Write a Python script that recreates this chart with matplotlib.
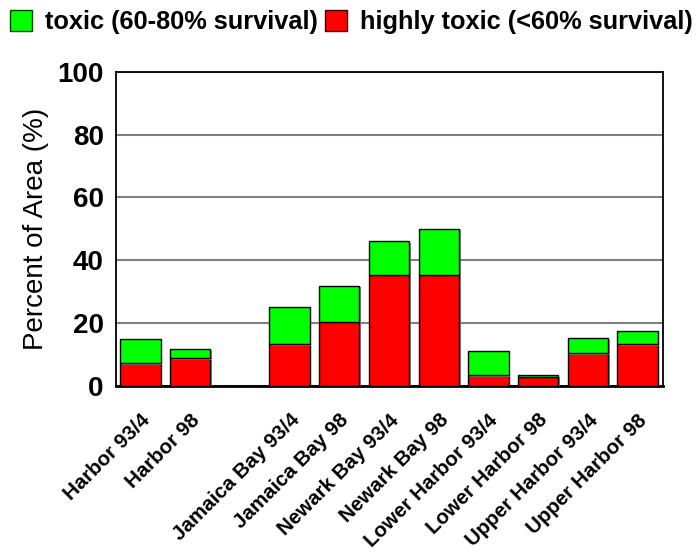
import numpy as np
import matplotlib.pyplot as plt
import matplotlib.patheffects as pe
from matplotlib.patches import Patch

plt.rcParams['font.family'] = ['Liberation Sans', 'DejaVu Sans']

# one empty slot between the harbor-wide bars and the sub-basins
labels = ['Harbor 93/4', 'Harbor 98', '',
          'Jamaica Bay 93/4', 'Jamaica Bay 98',
          'Newark Bay 93/4', 'Newark Bay 98',
          'Lower Harbor 93/4', 'Lower Harbor 98',
          'Upper Harbor 93/4', 'Upper Harbor 98']
highly_toxic = [7.2, 8.7, 0, 13.2, 20.4, 35.4, 35.4, 3.2, 2.8, 10.4, 13.1]
toxic_total = [14.8, 11.7, 0, 24.9, 31.8, 46.0, 50.0, 10.9, 3.2, 15.0, 17.3]
toxic = [t - h for t, h in zip(toxic_total, highly_toxic)]

fig = plt.figure(figsize=(6.97, 5.52), dpi=100)
ax = fig.add_axes([115.5 / 697, 1 - 385.5 / 552, 547 / 697, 313.5 / 552])

x = np.arange(len(labels))
shadow = [pe.SimplePatchShadow(offset=(1.2, -1.2), shadow_rgbFace='0.5', alpha=0.9),
          pe.Normal()]
keep = [i for i in range(len(labels)) if labels[i]]
b1 = ax.bar(x[keep], np.array(highly_toxic)[keep], width=0.81, color='#ff0000',
            edgecolor='black', linewidth=1.0, zorder=3, path_effects=shadow)
b2 = ax.bar(x[keep], np.array(toxic)[keep], width=0.81,
            bottom=np.array(highly_toxic)[keep], color='#00ff00',
            edgecolor='black', linewidth=1.0, zorder=3, path_effects=shadow)

ax.set_xlim(-0.5, len(labels) - 0.5)
ax.set_ylim(0, 100)
ax.set_yticks([0, 20, 40, 60, 80, 100])
ax.set_yticklabels(['0', '20', '40', '60', '80', '100'], fontsize=20, fontweight='bold')
ax.yaxis.grid(True, color='#808080', linewidth=1.5, zorder=0)
ax.set_axisbelow(True)
ax.tick_params(axis='y', length=0, pad=8.5)
ax.tick_params(axis='x', length=0, pad=18)
ax.set_xticks(x[keep])
ax.set_xticklabels([labels[i] for i in keep], rotation=45, ha='right',
                   rotation_mode='anchor', fontsize=14.8, fontweight='bold')
ax.set_ylabel('Percent of Area (%)', fontsize=20, labelpad=6)
for s in ax.spines.values():
    s.set_linewidth(1.3)
    s.set_color('black')
ax.spines['bottom'].set_linewidth(2)

handles = [Patch(facecolor='#00ff00', edgecolor='#004400'),
           Patch(facecolor='#ff0000', edgecolor='#440000')]
fig.legend(handles, ['toxic (60-80% survival)', 'highly toxic (<60% survival)'],
           loc='upper left', bbox_to_anchor=(0.0, 1.0), ncol=2, frameon=False,
           prop={'size': 18.3, 'weight': 'bold'}, handlelength=0.87, handleheight=0.87,
           handletextpad=0.5, columnspacing=0.28, borderaxespad=0.2, borderpad=0.2)

fig.savefig('out.png', dpi=100)
